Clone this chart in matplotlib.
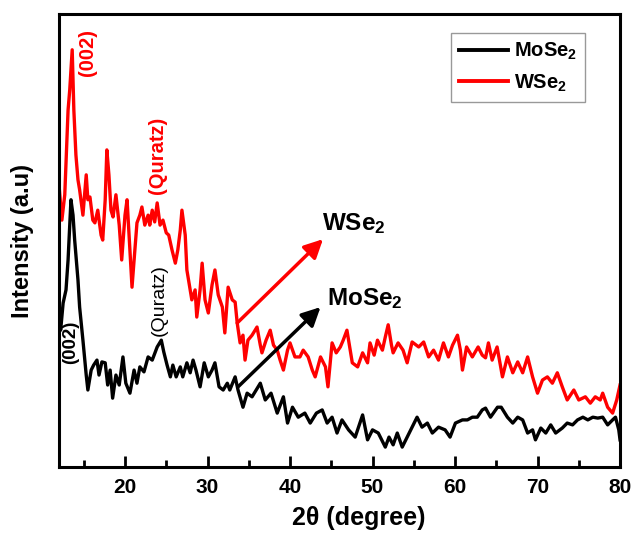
import matplotlib
matplotlib.use("Agg")
import matplotlib.pyplot as plt

plt.rcParams['font.family'] = ['Liberation Sans', 'DejaVu Sans']
plt.rcParams['font.weight'] = 'bold'
plt.rcParams['mathtext.fontset'] = 'custom'
plt.rcParams['mathtext.rm'] = 'Liberation Sans:bold'
plt.rcParams['mathtext.bf'] = 'Liberation Sans:bold'
plt.rcParams['mathtext.it'] = 'Liberation Sans:bold'
plt.rcParams['mathtext.default'] = 'bf'

# ---- data (2theta in degrees, intensity in arbitrary units) ----
wse2_x = [12.0, 12.35, 12.7, 13.1, 13.3, 13.6, 13.8, 14.05, 14.3, 14.5, 14.9, 15.3, 15.5, 15.75,
          16.1, 16.35, 16.7, 17.1, 17.3, 17.6, 17.8, 18.05, 18.3, 18.55, 18.9, 19.3, 19.6, 20.0,
          20.25, 20.6, 20.85, 21.2, 21.45, 21.8, 22.05, 22.4, 22.8, 23.0, 23.3, 23.6, 23.9, 24.25,
          24.6, 25.0, 25.3, 25.7, 26.1, 26.4, 26.7, 26.9, 27.3, 27.5, 27.9, 28.1, 28.5, 28.7,
          29.1, 29.35, 29.7, 30.1, 30.55, 30.9, 31.3, 31.8, 32.1, 32.5, 33.0, 33.35, 33.6, 33.95,
          34.3, 34.55, 34.9, 35.4, 36.0, 36.4, 36.6, 37.1, 37.6, 38.0, 38.45, 38.8, 39.2, 39.7,
          40.0, 40.6, 41.2, 41.6, 42.2, 42.7, 43.05, 43.7, 44.3, 44.6, 45.1, 45.6, 46.1, 46.45,
          46.9, 47.3, 47.55, 48.2, 48.8, 49.4, 49.7, 50.2, 50.6, 51.2, 51.55, 51.9, 52.3, 52.5,
          53.1, 53.7, 54.2, 54.8, 55.6, 56.2, 56.8, 57.4, 58.0, 58.6, 59.2, 59.7, 60.3, 60.65,
          60.9, 61.4, 62.1, 62.8, 63.3, 63.7, 64.05, 64.5, 65.1, 65.75, 66.35, 67.0, 67.6, 68.2,
          68.8, 69.4, 70.0, 70.6, 71.2, 71.8, 72.4, 73.0, 73.6, 74.4, 75.0, 75.8, 76.4, 77.0,
          77.6, 77.9, 78.5, 79.1, 79.6, 80.0]
wse2_y = [62.3, 54.5, 60.1, 78.8, 83.2, 92.1, 78.8, 68.9, 63.4, 61.2, 55.6, 64.5, 59.0, 59.6,
          54.5, 53.9, 56.7, 51.2, 50.1, 59.0, 70.0, 64.5, 56.7, 55.2, 60.1, 53.4, 45.7, 55.6,
          59.0, 47.9, 39.7, 47.9, 53.9, 55.6, 57.4, 53.4, 55.6, 53.4, 56.7, 54.1, 58.3, 53.4,
          54.5, 51.7, 51.2, 47.9, 45.0, 47.9, 52.3, 56.7, 51.2, 43.5, 39.1, 36.9, 39.1, 33.1,
          39.1, 45.0, 36.9, 34.0, 40.2, 43.5, 38.0, 35.3, 29.6, 39.7, 36.9, 36.4, 31.8, 27.4,
          29.1, 23.6, 28.0, 29.1, 30.9, 26.9, 25.2, 28.0, 30.2, 26.9, 25.8, 23.6, 21.4, 25.8,
          27.4, 24.3, 24.3, 25.8, 24.3, 21.4, 19.9, 24.3, 22.1, 17.7, 27.4, 25.2, 26.5, 28.0,
          30.2, 25.8, 23.0, 22.1, 25.2, 23.0, 27.4, 24.7, 28.0, 25.8, 28.7, 31.4, 26.9, 25.2,
          27.4, 25.8, 23.0, 27.6, 26.5, 27.6, 24.3, 25.8, 23.6, 27.4, 24.3, 26.9, 29.1, 25.8,
          21.4, 26.5, 24.3, 26.5, 24.7, 24.1, 27.4, 23.6, 26.5, 19.9, 24.3, 20.8, 23.2, 20.8,
          24.3, 19.9, 16.3, 19.2, 19.9, 18.5, 20.8, 17.7, 14.8, 17.0, 14.8, 15.5, 14.1, 15.5,
          14.8, 16.3, 13.2, 11.9, 14.8, 18.1]

mose2_x = [12.0, 12.2, 12.5, 12.85, 13.1, 13.45, 13.7, 13.9, 14.3, 14.5, 14.9, 15.3, 15.5, 15.9,
           16.2, 16.6, 16.85, 17.2, 17.6, 17.9, 18.2, 18.5, 18.9, 19.3, 19.75, 20.1, 20.6, 21.1,
           21.45, 21.8, 22.3, 22.8, 23.3, 23.9, 24.4, 24.7, 25.1, 25.5, 25.8, 26.2, 26.7, 27.0,
           27.5, 27.9, 28.25, 28.6, 29.1, 29.6, 30.1, 30.55, 30.9, 31.4, 31.9, 32.4, 32.7, 33.35,
           33.7, 34.3, 34.8, 35.4, 35.9, 36.4, 37.0, 37.7, 38.45, 39.2, 39.7, 40.3, 41.0, 41.8,
           42.45, 43.2, 43.9, 44.5, 45.1, 45.7, 46.3, 47.1, 47.9, 48.8, 49.4, 50.0, 50.7, 51.55,
           52.0, 52.5, 53.0, 53.6, 54.2, 54.8, 55.4, 56.0, 56.65, 57.25, 58.0, 58.8, 59.4, 60.05,
           60.9, 61.5, 62.1, 62.7, 63.3, 63.7, 64.3, 65.15, 65.6, 66.35, 67.0, 67.6, 68.2, 68.8,
           69.4, 69.75, 70.4, 71.0, 71.6, 72.2, 73.0, 73.6, 74.25, 74.85, 75.5, 76.1, 76.7, 77.3,
           77.9, 78.5, 79.1, 79.45, 79.85, 80.0]
mose2_y = [32.5, 30.2, 36.2, 39.1, 45.7, 59.0, 55.6, 50.1, 41.3, 35.3, 28.0, 20.3, 17.0, 21.4,
           22.5, 23.6, 20.3, 23.2, 23.0, 18.1, 21.4, 15.2, 20.3, 18.1, 24.3, 18.5, 16.3, 21.4,
           18.5, 22.1, 21.0, 24.3, 23.6, 26.5, 28.0, 25.4, 22.5, 19.9, 22.5, 19.9, 22.1, 19.9,
           23.0, 20.8, 23.6, 21.4, 17.7, 23.0, 19.9, 21.4, 23.0, 17.7, 17.0, 18.5, 17.0, 19.9,
           17.0, 13.2, 16.3, 15.5, 17.0, 18.5, 14.8, 16.3, 11.9, 15.5, 9.7, 13.2, 11.0, 11.9,
           9.7, 11.9, 12.6, 9.7, 11.0, 7.5, 10.4, 8.2, 6.6, 11.5, 6.0, 8.2, 7.5, 4.4,
           6.6, 4.9, 7.5, 4.4, 6.6, 8.8, 11.0, 8.8, 9.7, 7.5, 8.8, 8.2, 6.6, 9.7,
           10.4, 10.4, 11.0, 11.0, 12.6, 13.0, 11.0, 13.2, 13.2, 11.0, 9.7, 11.0, 10.4, 7.5,
           8.2, 6.0, 8.6, 7.5, 9.3, 7.5, 8.6, 9.7, 9.3, 10.4, 11.0, 10.4, 11.0, 10.8,
           11.0, 9.3, 10.4, 11.0, 8.2, 6.0]

x_ticks = [20, 30, 40, 50, 60, 70, 80]
x_minor = [15, 25, 35, 45, 55, 65, 75]

fig = plt.figure(figsize=(6.33, 5.33), dpi=100)
ax = fig.add_axes([0.0932, 0.1238, 0.8863, 0.8499])

ax.plot(mose2_x, mose2_y, color='black', lw=2.4, label='MoSe$_2$', solid_joinstyle='round')
ax.plot(wse2_x, wse2_y, color='red', lw=2.4, label='WSe$_2$', solid_joinstyle='round')

ax.set_xlim(12, 80)
ax.set_ylim(0, 100)
ax.set_xticks(x_ticks)
ax.set_xticks(x_minor, minor=True)
ax.set_yticks([])
ax.tick_params(axis='x', which='major', direction='in', length=8, width=2, labelsize=15, pad=8)
ax.tick_params(axis='x', which='minor', direction='in', length=5, width=2)
for lab in ax.get_xticklabels():
    lab.set_fontweight('bold')
for s in ax.spines.values():
    s.set_linewidth(2.2)

ax.set_xlabel('2θ (degree)', fontsize=18, fontweight='bold')
ax.xaxis.set_label_coords(0.535, -0.085)
ax.set_ylabel('Intensity (a.u)', fontsize=17, fontweight='bold', labelpad=18)

# peak labels
ax.text(15.5, 91.4, '(002)', color='red', rotation=90, fontsize=14.5, fontweight='bold',
        ha='center', va='center')
ax.text(23.9, 68.7, '(Quratz)', color='red', rotation=90, fontsize=14.5, fontweight='bold',
        ha='center', va='center')
ax.text(13.45, 27.6, '(002)', color='black', rotation=90, fontsize=13.5, fontweight='bold',
        ha='center', va='center')
ax.text(24.1, 36.9, '(Quratz)', color='black', rotation=90, fontsize=14, fontweight='normal',
        ha='center', va='center')

# arrows
ax.annotate('', xy=(44.0, 50.3), xytext=(33.6, 31.8),
            arrowprops=dict(arrowstyle='-|>', color='red', lw=2.5, mutation_scale=28,
                            shrinkA=0, shrinkB=0))
ax.annotate('', xy=(43.7, 35.3), xytext=(33.7, 17.7),
            arrowprops=dict(arrowstyle='-|>', color='black', lw=2.5, mutation_scale=28,
                            shrinkA=0, shrinkB=0))
ax.text(43.9, 52.3, 'WSe$_2$', fontsize=17.5, fontweight='bold', ha='left', va='baseline')
ax.text(44.5, 35.8, 'MoSe$_2$', fontsize=17.5, fontweight='bold', ha='left', va='baseline')

leg = ax.legend(loc='upper right', bbox_to_anchor=(0.9376, 0.958), borderaxespad=0,
                frameon=True, fancybox=False, handlelength=2.4,
                handletextpad=0.3, borderpad=0.4, labelspacing=0.5,
                prop={'weight': 'bold', 'size': 14.5})
leg.get_frame().set_edgecolor('#808080')
leg.get_frame().set_linewidth(1.0)
for line in leg.get_lines():
    line.set_linewidth(2.8)

fig.savefig('out.png', dpi=100)
